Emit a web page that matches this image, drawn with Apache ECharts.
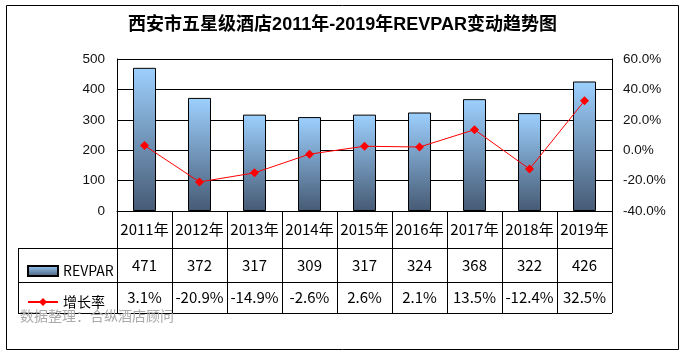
<!DOCTYPE html>
<html>
<head>
<meta charset="utf-8">
<script src="https://cdn.jsdelivr.net/npm/echarts@6/dist/echarts.min.js"></script>
<style>
html,body{margin:0;padding:0;background:#fff;}
#main{width:685px;height:354px;}
</style>
</head>
<body>
<div id="main"></div>
<script>
// 数据
var years = ['2011年','2012年','2013年','2014年','2015年','2016年','2017年','2018年','2019年'];
var revpar = [471, 372, 317, 309, 317, 324, 368, 322, 426];
var rate = [3.1, -20.9, -14.9, -2.6, 2.6, 2.1, 13.5, -12.4, 32.5];

var barColor = new echarts.graphic.LinearGradient(0, 0, 0, 1, [
    {offset: 0, color: '#9dd0fe'},
    {offset: 1, color: '#465a74'}
]);
var tableFont = '"Noto Sans CJK SC", "Microsoft YaHei", sans-serif';

var chart = echarts.init(document.getElementById('main'));
chart.setOption({
    backgroundColor: '#fff',
    animation: false,
    title: {
        text: '西安市五星级酒店2011年-2019年REVPAR变动趋势图',
        left: 'center',
        top: 11,
        textStyle: {
            fontSize: 18,
            fontWeight: 'bold',
            color: '#000',
            fontFamily: 'Arial, "Noto Sans CJK SC", sans-serif'
        }
    },
    legend: {
        orient: 'vertical',
        left: 22,
        top: 259,
        itemWidth: 30,
        itemHeight: 10,
        itemGap: 17,
        textStyle: {fontSize: 14, color: '#000', fontFamily: tableFont},
        data: [
            {name: 'REVPAR', icon: 'rect'},
            {name: '增长率'}
        ]
    },
    grid: {left: 117, right: 73, top: 59, bottom: 143},
    xAxis: {
        type: 'category',
        data: years,
        axisLine: {lineStyle: {color: '#000', width: 1}},
        axisTick: {show: true, interval: 0, length: 102, lineStyle: {color: '#000'}},
        axisLabel: {
            interval: 0,
            margin: 0,
            formatter: function (v, i) {
                return '{y|' + v + '}\n{v|' + revpar[i] + '}\n{r|' + rate[i].toFixed(1) + '%}';
            },
            rich: {
                y: {fontSize: 15, lineHeight: 37, color: '#000', fontFamily: tableFont},
                v: {fontSize: 15, lineHeight: 34, color: '#000', fontFamily: tableFont},
                r: {fontSize: 15, lineHeight: 31, color: '#000', fontFamily: tableFont}
            }
        }
    },
    yAxis: [{
        type: 'value',
        min: 0,
        max: 500,
        interval: 100,
        axisLine: {show: true, lineStyle: {color: '#000'}},
        axisTick: {show: false},
        splitLine: {lineStyle: {color: '#000', width: 1}},
        axisLabel: {fontSize: 13.5, color: '#111', margin: 12, fontFamily: 'Arial, sans-serif'}
    }, {
        type: 'value',
        min: -40,
        max: 60,
        interval: 20,
        axisLine: {show: true, lineStyle: {color: '#000'}},
        axisTick: {show: false},
        splitLine: {show: false},
        axisLabel: {
            fontSize: 13.5, color: '#111', margin: 11, fontFamily: 'Arial, sans-serif',
            formatter: function (v) { return v.toFixed(1) + '%'; }
        }
    }],
    series: [{
        name: 'REVPAR',
        type: 'bar',
        data: revpar,
        barWidth: 23,
        itemStyle: {color: barColor, borderColor: '#000', borderWidth: 1}
    }, {
        name: '增长率',
        type: 'line',
        yAxisIndex: 1,
        data: rate,
        symbol: 'diamond',
        symbolSize: 9,
        lineStyle: {color: '#ff0000', width: 1},
        itemStyle: {color: '#ff0000'}
    }],
    graphic: [
        {type: 'rect', shape: {x: 6.5, y: 5.5, width: 672, height: 344}, style: {fill: 'none', stroke: '#000', lineWidth: 1}, z: -1},
        {type: 'line', shape: {x1: 18, y1: 248.5, x2: 612, y2: 248.5}, style: {stroke: '#000', lineWidth: 1}},
        {type: 'line', shape: {x1: 18, y1: 282.5, x2: 612, y2: 282.5}, style: {stroke: '#000', lineWidth: 1}},
        {type: 'line', shape: {x1: 18, y1: 313.5, x2: 612, y2: 313.5}, style: {stroke: '#000', lineWidth: 1}},
        {type: 'line', shape: {x1: 18.5, y1: 248, x2: 18.5, y2: 314}, style: {stroke: '#000', lineWidth: 1}},
        {type: 'text', left: 20, top: 309, style: {text: '数据整理：合纵酒店顾问', fill: '#aaaaaa', fontSize: 14, fontFamily: tableFont}}
    ]
});
</script>
</body>
</html>
